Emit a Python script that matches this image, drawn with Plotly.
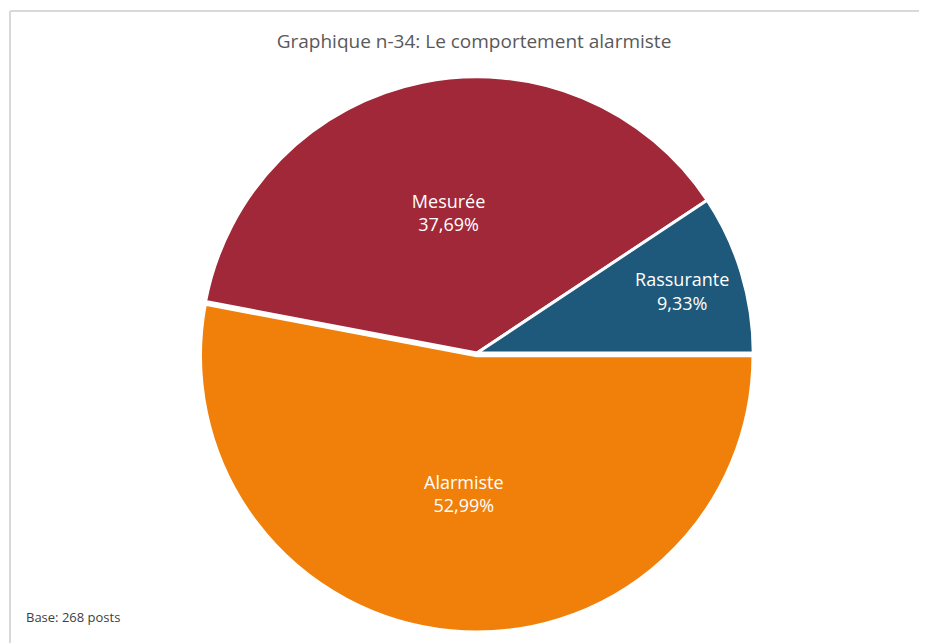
import plotly.graph_objects as go

# Data
categories = ["Alarmiste", "Mesurée", "Rassurante"]
shares = [52.99, 37.69, 9.33]
colors = ["#F0800A", "#A02838", "#1E587A"]
title_text = "Graphique n-34: Le comportement alarmiste"
footer_text = "Base: 268 posts"

OFF = 8  # page body margin offset
W, H = 927 - OFF, 643 - OFF
ml, mr, mt, mb = 30, 11, 66, 11

fig = go.Figure(
    go.Pie(
        labels=categories,
        values=shares,
        sort=False,
        direction="clockwise",
        rotation=90,
        pull=[0.01, 0, 0],
        marker=dict(colors=colors, line=dict(color="white", width=3)),
        texttemplate="%{label}<br>%{value:.2f}%",
        textposition="inside",
        insidetextorientation="horizontal",
        textfont=dict(family="Open Sans, Calibri, sans-serif", size=18, color="white"),
        hoverinfo="label+percent",
        showlegend=False,
    )
)

pw = W - ml - mr
ph = H - mt - mb


def px(x):
    return (x - OFF - ml) / pw


def py(y):
    return (H - mb - (y - OFF)) / ph


fig.update_layout(
    width=W,
    height=H,
    margin=dict(l=ml, r=mr, t=mt, b=mb),
    paper_bgcolor="white",
    plot_bgcolor="white",
    separators=", ",
    font=dict(family="Open Sans, Calibri, sans-serif"),
    title=dict(
        text=title_text,
        x=(474 - OFF) / W,
        xref="container",
        xanchor="center",
        y=1 - (41 - OFF) / H,
        yref="container",
        yanchor="middle",
        font=dict(size=19, color="#595959"),
    ),
    shapes=[
        dict(
            type="line", xref="paper", yref="paper",
            x0=px(10), x1=px(940),
            y0=py(11), y1=py(11),
            line=dict(color="#D9D9D9", width=2),
        ),
        dict(
            type="line", xref="paper", yref="paper",
            x0=px(10), x1=px(10),
            y0=py(11), y1=py(660),
            line=dict(color="#D9D9D9", width=2),
        ),
    ],
    annotations=[
        dict(
            text=footer_text,
            xref="paper", yref="paper",
            x=px(24), y=py(617),
            xanchor="left", yanchor="middle",
            showarrow=False,
            font=dict(size=13, color="#404040", family="Open Sans, Calibri, sans-serif"),
        )
    ],
)

fig.write_html("out.html")
